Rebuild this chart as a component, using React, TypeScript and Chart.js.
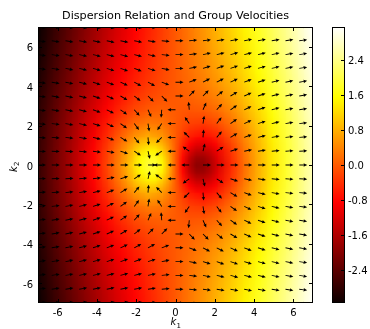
import React, { useEffect, useRef } from "react";
import { Chart, registerables } from "chart.js";

Chart.register(...registerables);

const TITLE = "Dispersion Relation and Group Velocities";
const X_LABEL = ["k", "1"];
const Y_LABEL = ["k", "2"];

const K1 = [-7, -6.3, -5.6, -4.9, -4.2, -3.5, -2.8, -2.1, -1.4, -0.7, 0, 0.7, 1.4, 2.1, 2.8, 3.5, 4.2, 4.9, 5.6, 6.3, 7];
const K2 = [7, 6.3, 5.6, 4.9, 4.2, 3.5, 2.8, 2.1, 1.4, 0.7, 0, -0.7, -1.4, -2.1, -2.8, -3.5, -4.2, -4.9, -5.6, -6.3, -7];

// omega(k1, k2): rows top (k2 = 7) to bottom (k2 = -7), columns k1 = -7 .. 7
const OMEGA: number[][] = [
  [-3.14, -2.79, -2.44, -2.10, -1.77, -1.45, -1.14, -0.84, -0.56, -0.28, 0, 0.28, 0.56, 0.84, 1.14, 1.45, 1.77, 2.10, 2.44, 2.79, 3.14],
  [-3.10, -2.74, -2.39, -2.05, -1.71, -1.39, -1.09, -0.80, -0.52, -0.26, 0, 0.26, 0.52, 0.80, 1.09, 1.39, 1.71, 2.05, 2.39, 2.74, 3.10],
  [-3.05, -2.69, -2.33, -1.98, -1.64, -1.32, -1.02, -0.74, -0.48, -0.23, 0, 0.23, 0.48, 0.74, 1.02, 1.32, 1.64, 1.98, 2.33, 2.69, 3.05],
  [-3.00, -2.63, -2.26, -1.90, -1.56, -1.23, -0.93, -0.66, -0.42, -0.20, 0, 0.20, 0.42, 0.66, 0.93, 1.23, 1.56, 1.90, 2.26, 2.63, 3.00],
  [-2.95, -2.56, -2.19, -1.82, -1.46, -1.12, -0.81, -0.55, -0.33, -0.15, 0, 0.15, 0.33, 0.55, 0.81, 1.12, 1.46, 1.82, 2.19, 2.56, 2.95],
  [-2.89, -2.50, -2.11, -1.72, -1.34, -0.98, -0.66, -0.39, -0.20, -0.08, 0, 0.08, 0.20, 0.39, 0.66, 0.98, 1.34, 1.72, 2.11, 2.50, 2.89],
  [-2.84, -2.43, -2.02, -1.61, -1.20, -0.81, -0.45, -0.17, 0.00, 0.05, 0, -0.05, 0.00, 0.17, 0.45, 0.81, 1.20, 1.61, 2.02, 2.43, 2.84],
  [-2.79, -2.37, -1.94, -1.50, -1.06, -0.61, -0.20, 0.14, 0.32, 0.25, 0, -0.25, -0.32, -0.14, 0.20, 0.61, 1.06, 1.50, 1.94, 2.37, 2.79],
  [-2.76, -2.32, -1.88, -1.41, -0.92, -0.42, 0.10, 0.56, 0.81, 0.60, 0, -0.60, -0.81, -0.56, -0.10, 0.42, 0.92, 1.41, 1.88, 2.32, 2.76],
  [-2.73, -2.29, -1.83, -1.34, -0.82, -0.26, 0.37, 1.02, 1.47, 1.15, 0, -1.15, -1.47, -1.02, -0.37, 0.26, 0.82, 1.34, 1.83, 2.29, 2.73],
  [-2.73, -2.28, -1.82, -1.32, -0.79, -0.19, 0.48, 1.25, 1.89, 1.52, 0, -1.52, -1.89, -1.25, -0.48, 0.19, 0.79, 1.32, 1.82, 2.28, 2.73],
  [-2.73, -2.29, -1.83, -1.34, -0.82, -0.26, 0.37, 1.02, 1.47, 1.15, 0, -1.15, -1.47, -1.02, -0.37, 0.26, 0.82, 1.34, 1.83, 2.29, 2.73],
  [-2.76, -2.32, -1.88, -1.41, -0.92, -0.42, 0.10, 0.56, 0.81, 0.60, 0, -0.60, -0.81, -0.56, -0.10, 0.42, 0.92, 1.41, 1.88, 2.32, 2.76],
  [-2.79, -2.37, -1.94, -1.50, -1.06, -0.61, -0.20, 0.14, 0.32, 0.25, 0, -0.25, -0.32, -0.14, 0.20, 0.61, 1.06, 1.50, 1.94, 2.37, 2.79],
  [-2.84, -2.43, -2.02, -1.61, -1.20, -0.81, -0.45, -0.17, 0.00, 0.05, 0, -0.05, 0.00, 0.17, 0.45, 0.81, 1.20, 1.61, 2.02, 2.43, 2.84],
  [-2.89, -2.50, -2.11, -1.72, -1.34, -0.98, -0.66, -0.39, -0.20, -0.08, 0, 0.08, 0.20, 0.39, 0.66, 0.98, 1.34, 1.72, 2.11, 2.50, 2.89],
  [-2.95, -2.56, -2.19, -1.82, -1.46, -1.12, -0.81, -0.55, -0.33, -0.15, 0, 0.15, 0.33, 0.55, 0.81, 1.12, 1.46, 1.82, 2.19, 2.56, 2.95],
  [-3.00, -2.63, -2.26, -1.90, -1.56, -1.23, -0.93, -0.66, -0.42, -0.20, 0, 0.20, 0.42, 0.66, 0.93, 1.23, 1.56, 1.90, 2.26, 2.63, 3.00],
  [-3.05, -2.69, -2.33, -1.98, -1.64, -1.32, -1.02, -0.74, -0.48, -0.23, 0, 0.23, 0.48, 0.74, 1.02, 1.32, 1.64, 1.98, 2.33, 2.69, 3.05],
  [-3.10, -2.74, -2.39, -2.05, -1.71, -1.39, -1.09, -0.80, -0.52, -0.26, 0, 0.26, 0.52, 0.80, 1.09, 1.39, 1.71, 2.05, 2.39, 2.74, 3.10],
  [-3.14, -2.79, -2.44, -2.10, -1.77, -1.45, -1.14, -0.84, -0.56, -0.28, 0, 0.28, 0.56, 0.84, 1.14, 1.45, 1.77, 2.10, 2.44, 2.79, 3.14],
];

// finer samples of omega around the two extrema (k1 = -2.1..2.1, k2 = 1.4..-1.4, step 0.35)
const K1_FINE = [-2.1, -1.75, -1.4, -1.05, -0.7, -0.35, 0, 0.35, 0.7, 1.05, 1.4, 1.75, 2.1];
const K2_FINE = [1.4, 1.05, 0.7, 0.35, 0, -0.35, -0.7, -1.05, -1.4];
const OMEGA_FINE: number[][] = [
  [0.56, 0.73, 0.81, 0.77, 0.60, 0.33, 0, -0.33, -0.60, -0.77, -0.81, -0.73, -0.56],
  [0.80, 1.01, 1.13, 1.09, 0.86, 0.47, 0, -0.47, -0.86, -1.09, -1.13, -1.01, -0.80],
  [1.02, 1.30, 1.47, 1.44, 1.15, 0.63, 0, -0.63, -1.15, -1.44, -1.47, -1.30, -1.02],
  [1.18, 1.53, 1.77, 1.76, 1.41, 0.77, 0, -0.77, -1.41, -1.76, -1.77, -1.53, -1.18],
  [1.25, 1.62, 1.89, 1.90, 1.52, 0.83, 0, -0.83, -1.52, -1.90, -1.89, -1.62, -1.25],
  [1.18, 1.53, 1.77, 1.76, 1.41, 0.77, 0, -0.77, -1.41, -1.76, -1.77, -1.53, -1.18],
  [1.02, 1.30, 1.47, 1.44, 1.15, 0.63, 0, -0.63, -1.15, -1.44, -1.47, -1.30, -1.02],
  [0.80, 1.01, 1.13, 1.09, 0.86, 0.47, 0, -0.47, -0.86, -1.09, -1.13, -1.01, -0.80],
  [0.56, 0.73, 0.81, 0.77, 0.60, 0.33, 0, -0.33, -0.60, -0.77, -0.81, -0.73, -0.56],
];

// group velocity direction (degrees, counter-clockwise from +k1), same grid as OMEGA
const ANGLE_DEG: number[][] = [
  [-7, -7, -8, -9, -9, -9, -9, -8, -6, -3, 0, 3, 6, 8, 9, 9, 9, 9, 8, 7, 7],
  [-7, -8, -9, -10, -11, -12, -11, -10, -8, -5, 0, 5, 8, 10, 11, 12, 11, 10, 9, 8, 7],
  [-8, -9, -10, -12, -13, -14, -15, -14, -12, -7, 0, 7, 12, 14, 15, 14, 13, 12, 10, 9, 8],
  [-8, -9, -11, -13, -15, -18, -19, -20, -18, -11, 0, 11, 18, 20, 19, 18, 15, 13, 11, 9, 8],
  [-8, -10, -12, -14, -18, -21, -25, -28, -28, -21, 0, 21, 28, 28, 25, 21, 18, 14, 12, 10, 8],
  [-8, -10, -12, -15, -19, -24, -31, -38, -45, -46, 0, 46, 45, 38, 31, 24, 19, 15, 12, 10, 8],
  [-7, -9, -11, -15, -19, -26, -35, -48, -66, -95, 180, 95, 66, 48, 35, 26, 19, 15, 11, 9, 7],
  [-6, -7, -10, -13, -18, -25, -36, -53, -81, -124, 180, 124, 81, 53, 36, 25, 18, 13, 10, 7, 6],
  [-4, -5, -7, -10, -14, -20, -31, -50, -85, -135, 180, 135, 85, 50, 31, 20, 14, 10, 7, 5, 4],
  [-2, -3, -4, -5, -8, -11, -18, -33, -76, -145, 180, 145, 76, 33, 18, 11, 8, 5, 4, 3, 2],
  [0, 0, 0, 0, 0, 0, 0, 0, 0, 180, 180, 180, 0, 0, 0, 0, 0, 0, 0, 0, 0],
  [2, 3, 4, 5, 8, 11, 18, 33, 76, 145, 180, -145, -76, -33, -18, -11, -8, -5, -4, -3, -2],
  [4, 5, 7, 10, 14, 20, 31, 50, 85, 135, 180, -135, -85, -50, -31, -20, -14, -10, -7, -5, -4],
  [6, 7, 10, 13, 18, 25, 36, 53, 81, 124, 180, -124, -81, -53, -36, -25, -18, -13, -10, -7, -6],
  [7, 9, 11, 15, 19, 26, 35, 48, 66, 95, 180, -95, -66, -48, -35, -26, -19, -15, -11, -9, -7],
  [8, 10, 12, 15, 19, 24, 31, 38, 45, 46, 0, -46, -45, -38, -31, -24, -19, -15, -12, -10, -8],
  [8, 10, 12, 14, 18, 21, 25, 28, 28, 21, 0, -21, -28, -28, -25, -21, -18, -14, -12, -10, -8],
  [8, 9, 11, 13, 15, 18, 19, 20, 18, 11, 0, -11, -18, -20, -19, -18, -15, -13, -11, -9, -8],
  [8, 9, 10, 12, 13, 14, 15, 14, 12, 7, 0, -7, -12, -14, -15, -14, -13, -12, -10, -9, -8],
  [7, 8, 9, 10, 11, 12, 11, 10, 8, 5, 0, -5, -8, -10, -11, -12, -11, -10, -9, -8, -7],
  [7, 7, 8, 9, 9, 9, 9, 8, 6, 3, 0, -3, -6, -8, -9, -9, -9, -9, -8, -7, -7],
];

const AXIS_MIN = -7;
const AXIS_MAX = 7;
const AXIS_TICKS = [-6, -4, -2, 0, 2, 4, 6];
const AXIS_TICK_LABELS = ["-6", "-4", "-2", "0", "2", "4", "6"];
const CB_MIN = -3.14;
const CB_MAX = 3.14;
const CB_TICKS = [-2.4, -1.6, -0.8, 0, 0.8, 1.6, 2.4];
const CB_TICK_LABELS = ["-2.4", "-1.6", "-0.8", "0.0", "0.8", "1.6", "2.4"];

const FONT = "DejaVu Sans";
const W = 370;
const H = 329;

// matplotlib "hot" colormap breakpoints
const HOT_STOPS: [number, number, number, number][] = [
  [0, 0.0416, 0, 0],
  [0.365079, 1, 0, 0],
  [0.746032, 1, 1, 0],
  [1, 1, 1, 1],
];

function hot(t: number): [number, number, number] {
  const u = Math.max(0, Math.min(1, t));
  for (let i = 1; i < HOT_STOPS.length; i++) {
    const a = HOT_STOPS[i - 1];
    const b = HOT_STOPS[i];
    if (u <= b[0]) {
      const f = (u - a[0]) / (b[0] - a[0]);
      return [
        255 * (a[1] + (b[1] - a[1]) * f),
        255 * (a[2] + (b[2] - a[2]) * f),
        255 * (a[3] + (b[3] - a[3]) * f),
      ];
    }
  }
  return [255, 255, 255];
}

function makeImage(grid: number[][]): HTMLCanvasElement {
  const ny = grid.length;
  const nx = grid[0].length;
  const off = document.createElement("canvas");
  off.width = nx;
  off.height = ny;
  const octx = off.getContext("2d")!;
  const img = octx.createImageData(nx, ny);
  for (let j = 0; j < ny; j++) {
    for (let i = 0; i < nx; i++) {
      const c = hot((grid[j][i] - CB_MIN) / (CB_MAX - CB_MIN));
      const k = (j * nx + i) * 4;
      img.data[k] = c[0];
      img.data[k + 1] = c[1];
      img.data[k + 2] = c[2];
      img.data[k + 3] = 255;
    }
  }
  octx.putImageData(img, 0, 0);
  return off;
}

// draws a grid image whose pixel centres sit on the grid nodes, clipped to a rectangle
function drawGrid(ctx: any, xs: any, ys: any, kx: number[], ky: number[], grid: number[][], clip: number[]) {
  const nx = kx.length;
  const ny = ky.length;
  const dx = (kx[nx - 1] - kx[0]) / (nx - 1);
  const dy = (ky[0] - ky[ny - 1]) / (ny - 1);
  const left = xs.getPixelForValue(kx[0] - dx / 2);
  const right = xs.getPixelForValue(kx[nx - 1] + dx / 2);
  const top = ys.getPixelForValue(ky[0] + dy / 2);
  const bottom = ys.getPixelForValue(ky[ny - 1] - dy / 2);
  ctx.save();
  ctx.beginPath();
  ctx.rect(clip[0], clip[1], clip[2] - clip[0], clip[3] - clip[1]);
  ctx.clip();
  ctx.imageSmoothingEnabled = true;
  ctx.imageSmoothingQuality = "low";
  ctx.drawImage(makeImage(grid), left, top, right - left, bottom - top);
  ctx.restore();
}

const heatmapPlugin = {
  id: "heatmap",
  beforeDatasetsDraw(chart: any) {
    const { ctx, chartArea } = chart;
    const xs = chart.scales.x;
    const ys = chart.scales.y;
    drawGrid(ctx, xs, ys, K1, K2, OMEGA, [chartArea.left, chartArea.top, chartArea.right, chartArea.bottom]);
    const fx0 = xs.getPixelForValue(K1_FINE[0]);
    const fx1 = xs.getPixelForValue(K1_FINE[K1_FINE.length - 1]);
    const fy0 = ys.getPixelForValue(K2_FINE[0]);
    const fy1 = ys.getPixelForValue(K2_FINE[K2_FINE.length - 1]);
    drawGrid(ctx, xs, ys, K1_FINE, K2_FINE, OMEGA_FINE, [fx0, fy0, fx1, fy1]);
  },
};

const ARROW_LEN = 8;
const SHAFT_HW = 0.45;
const HEAD_LEN = 3.3;
const HEAD_HW = 1.7;

const arrowPlugin = {
  id: "arrows",
  afterDatasetsDraw(chart: any) {
    const { ctx, chartArea } = chart;
    const meta = chart.getDatasetMeta(0);
    const nx = K1.length;
    ctx.save();
    ctx.beginPath();
    ctx.rect(chartArea.left, chartArea.top, chartArea.right - chartArea.left, chartArea.bottom - chartArea.top);
    ctx.clip();
    ctx.fillStyle = "#000";
    meta.data.forEach((pt: any, k: number) => {
      const j = Math.floor(k / nx);
      const i = k % nx;
      const th = (ANGLE_DEG[j][i] * Math.PI) / 180;
      ctx.save();
      ctx.translate(pt.x, pt.y);
      ctx.rotate(-th);
      ctx.beginPath();
      ctx.moveTo(0, -SHAFT_HW);
      ctx.lineTo(ARROW_LEN - HEAD_LEN, -SHAFT_HW);
      ctx.lineTo(ARROW_LEN - HEAD_LEN - 0.4, -HEAD_HW);
      ctx.lineTo(ARROW_LEN, 0);
      ctx.lineTo(ARROW_LEN - HEAD_LEN - 0.4, HEAD_HW);
      ctx.lineTo(ARROW_LEN - HEAD_LEN, SHAFT_HW);
      ctx.lineTo(0, SHAFT_HW);
      ctx.closePath();
      ctx.fill();
      ctx.restore();
    });
    ctx.restore();
  },
};

function drawSubLabel(ctx: CanvasRenderingContext2D, parts: string[], cx: number, baseline: number) {
  ctx.font = `italic 10px ${FONT}`;
  const w1 = ctx.measureText(parts[0]).width;
  ctx.font = `7px ${FONT}`;
  const w2 = ctx.measureText(parts[1]).width;
  const start = cx - (w1 + w2) / 2;
  ctx.font = `italic 10px ${FONT}`;
  ctx.textAlign = "left";
  ctx.textBaseline = "alphabetic";
  ctx.fillText(parts[0], start, baseline);
  ctx.font = `7px ${FONT}`;
  ctx.fillText(parts[1], start + w1 + 0.3, baseline + 2.8);
}

const decorPlugin = {
  id: "decor",
  afterDraw(chart: any) {
    const { ctx, chartArea } = chart;
    const xs = chart.scales.x;
    const ys = chart.scales.y;
    const cb = chart.scales.cb;
    const { left, right, top, bottom } = chartArea;
    ctx.save();
    // frame
    ctx.strokeStyle = "#000";
    ctx.lineWidth = 1;
    ctx.strokeRect(left + 0.5, top + 0.5, right - left - 1, bottom - top - 1);
    // inward ticks on all four sides
    ctx.beginPath();
    AXIS_TICKS.forEach((v) => {
      const px = Math.round(xs.getPixelForValue(v)) + 0.5;
      ctx.moveTo(px, bottom);
      ctx.lineTo(px, bottom - 4);
      ctx.moveTo(px, top);
      ctx.lineTo(px, top + 4);
      const py = Math.round(ys.getPixelForValue(v)) + 0.5;
      ctx.moveTo(left, py);
      ctx.lineTo(left + 4, py);
      ctx.moveTo(right, py);
      ctx.lineTo(right - 4, py);
    });
    ctx.stroke();

    // tick labels
    ctx.fillStyle = "#000";
    ctx.font = `10px ${FONT}`;
    ctx.textBaseline = "alphabetic";
    ctx.textAlign = "center";
    AXIS_TICKS.forEach((v, i) => {
      ctx.fillText(AXIS_TICK_LABELS[i], xs.getPixelForValue(v), bottom + 12.5);
    });
    ctx.textAlign = "right";
    AXIS_TICKS.forEach((v, i) => {
      ctx.fillText(AXIS_TICK_LABELS[i], left - 5, ys.getPixelForValue(v) + 4.6);
    });

    // colorbar
    const cbLeft = right + 19;
    const cbW = 13;
    const cbTop = cb.getPixelForValue(CB_MAX);
    const cbBottom = cb.getPixelForValue(CB_MIN);
    const grad = ctx.createLinearGradient(0, cbBottom, 0, cbTop);
    HOT_STOPS.forEach((s) => {
      grad.addColorStop(s[0], `rgb(${Math.round(s[1] * 255)},${Math.round(s[2] * 255)},${Math.round(s[3] * 255)})`);
    });
    ctx.fillStyle = grad;
    ctx.fillRect(cbLeft, cbTop, cbW, cbBottom - cbTop);
    ctx.strokeStyle = "#000";
    ctx.strokeRect(cbLeft + 0.5, cbTop + 0.5, cbW - 1, cbBottom - cbTop - 1);
    ctx.beginPath();
    CB_TICKS.forEach((v) => {
      const py = Math.round(cb.getPixelForValue(v)) + 0.5;
      ctx.moveTo(cbLeft + cbW, py);
      ctx.lineTo(cbLeft + cbW - 4, py);
    });
    ctx.stroke();
    ctx.fillStyle = "#000";
    ctx.font = `10px ${FONT}`;
    ctx.textAlign = "left";
    ctx.textBaseline = "alphabetic";
    CB_TICKS.forEach((v, i) => {
      ctx.fillText(CB_TICK_LABELS[i], cbLeft + cbW + 3, cb.getPixelForValue(v) + 4);
    });

    // title
    ctx.fillStyle = "#000";
    ctx.font = `11.2px ${FONT}`;
    ctx.textAlign = "center";
    ctx.textBaseline = "alphabetic";
    ctx.fillText(TITLE, (left + right) / 2, 19);

    // axis labels
    drawSubLabel(ctx, X_LABEL, (left + right) / 2, 325);
    ctx.save();
    ctx.translate(16.5, (top + bottom) / 2 + 2);
    ctx.rotate(-Math.PI / 2);
    drawSubLabel(ctx, Y_LABEL, 0, 0);
    ctx.restore();
    ctx.restore();
  },
};

export default function App() {
  const ref = useRef<HTMLCanvasElement | null>(null);
  useEffect(() => {
    if (!ref.current) return;
    const points: { x: number; y: number }[] = [];
    K2.forEach((y) => K1.forEach((x) => points.push({ x, y })));
    const chart = new Chart(ref.current, {
      type: "scatter",
      data: {
        datasets: [
          {
            data: points,
            pointRadius: 0,
            pointHoverRadius: 0,
            borderWidth: 0,
          },
        ],
      },
      options: {
        responsive: false,
        devicePixelRatio: 1,
        animation: false,
        events: [],
        layout: { padding: { top: 27, left: 0, right: 0, bottom: 0 } },
        plugins: {
          legend: { display: false },
          tooltip: { enabled: false },
          title: { display: false },
        },
        scales: {
          x: {
            type: "linear",
            position: "bottom",
            min: AXIS_MIN,
            max: AXIS_MAX,
            grid: { display: false },
            border: { display: false },
            afterBuildTicks: (s: any) => {
              s.ticks = AXIS_TICKS.map((v) => ({ value: v }));
            },
            afterFit: (s: any) => {
              s.height = 26;
            },
            ticks: { display: false },
          },
          y: {
            type: "linear",
            position: "left",
            min: AXIS_MIN,
            max: AXIS_MAX,
            grid: { display: false },
            border: { display: false },
            afterBuildTicks: (s: any) => {
              s.ticks = AXIS_TICKS.map((v) => ({ value: v }));
            },
            afterFit: (s: any) => {
              s.width = 38;
            },
            ticks: { display: false },
          },
          cb: {
            type: "linear",
            position: "right",
            min: CB_MIN,
            max: CB_MAX,
            grid: { display: false },
            border: { display: false },
            afterBuildTicks: (s: any) => {
              s.ticks = CB_TICKS.map((v) => ({ value: v }));
            },
            afterFit: (s: any) => {
              s.width = 57;
            },
            ticks: { display: false },
          },
        },
      } as any,
      plugins: [heatmapPlugin, arrowPlugin, decorPlugin],
    });
    return () => chart.destroy();
  }, []);
  return (
    <div style={{ position: "absolute", left: 0, top: 0, width: W, height: H, background: "#fff" }}>
      <canvas ref={ref} width={W} height={H} style={{ display: "block", width: W, height: H }} />
    </div>
  );
}
